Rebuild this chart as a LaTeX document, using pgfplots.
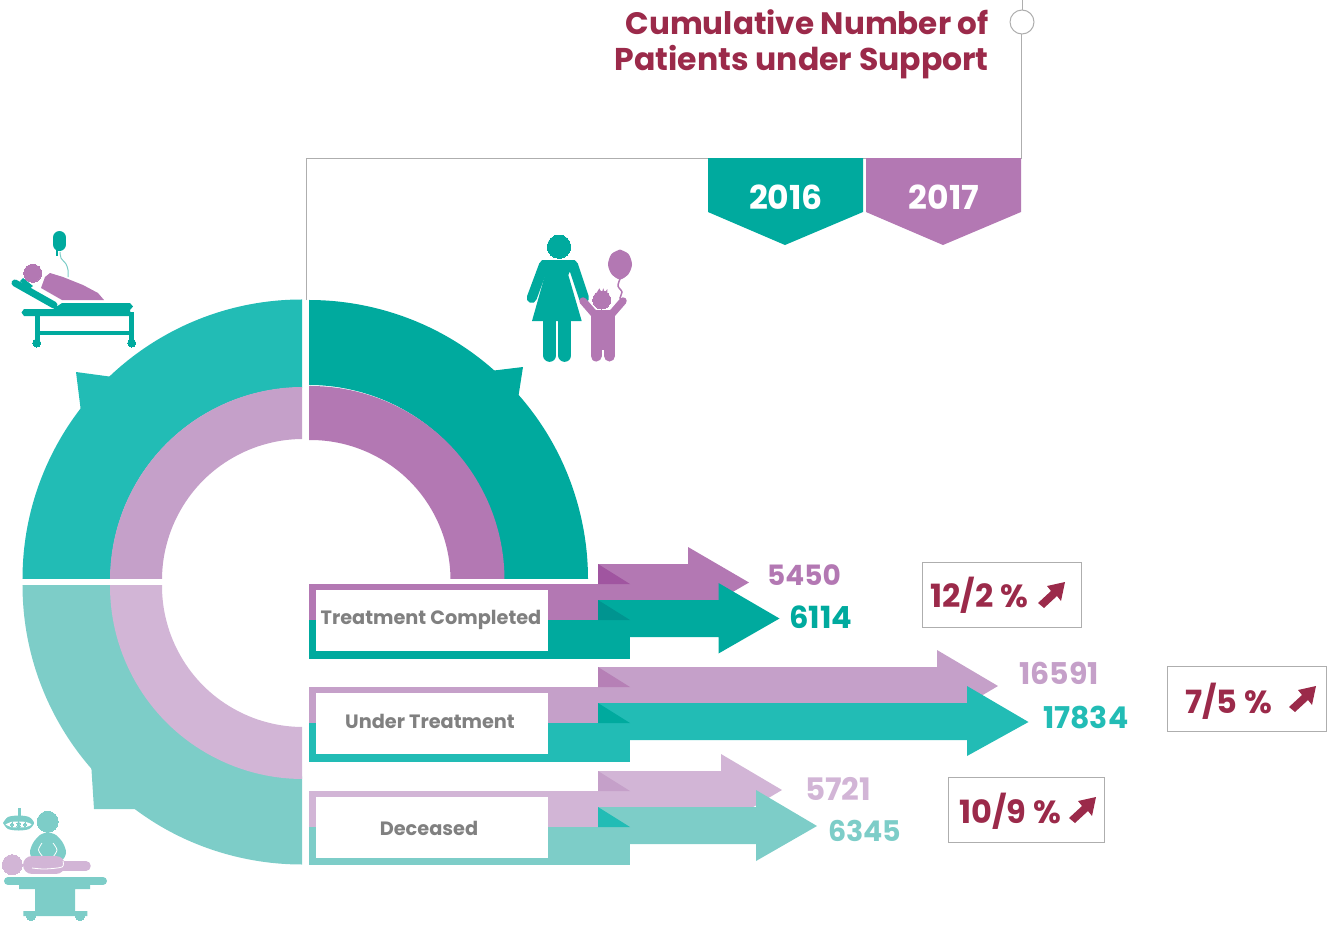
\documentclass[border=0pt]{standalone}
\usepackage{pgfplots}
\pgfplotsset{compat=1.18}
\usepackage{fontspec}
\setmainfont{Poppins}
\definecolor{tA}{HTML}{00AA9E}
\definecolor{tB}{HTML}{22BCB5}
\definecolor{tC}{HTML}{7DCDC8}
\definecolor{pA}{HTML}{B378B3}
\definecolor{pB}{HTML}{C5A0C9}
\definecolor{pC}{HTML}{D2B5D6}
\definecolor{foldP}{HTML}{A055A0}
\definecolor{foldT}{HTML}{009490}
\definecolor{foldPb}{HTML}{B680B6}
\definecolor{maroon}{HTML}{9B2A4A}
\definecolor{lab}{HTML}{808080}
\definecolor{rule}{HTML}{AEAEAE}
\pgfplotsset{
  base/.style={hide axis,scale only axis,y dir=reverse,anchor=south west},
  sh/.style={fill=#1,draw=none},
  ln/.style 2 args={draw=#1,line width=#2,line cap=round,line join=round},
  dot/.style 2 args={only marks,mark=*,mark size=#2,color=#1,mark options={fill=#1,draw=#1,line width=0pt}},
  arc/.style 2 args={smooth,tension=0.61,draw=#1,line width=#2},
}
\newcommand{\txt}[4]{\node[anchor=#1,inner sep=0pt,text=#2] at (axis cs:#3) {#4};}
\begin{document}
\begin{tikzpicture}[x=1pt,y=1pt]
\useasboundingbox (0pt,0pt) rectangle (1331pt,924pt);
% donut: top right
\begin{axis}[base,at={(309pt,346pt)},width=291pt,height=288pt,xmin=309,xmax=600,ymin=290,ymax=578]
\addplot[arc={tA}{85pt}] coordinates {(537.4,640.2)(545.5,579)(537.4,517.8)(513.8,460.7)(476.2,411.8)(427.3,374.2)(370.2,350.6)(309,342.5)(247.8,350.6)};
\addplot[arc={pA}{54pt}] coordinates {(471.8,623.2)(477.5,580)(471.8,536.8)(455.1,496.5)(428.6,461.9)(394,435.4)(353.7,418.7)(310.5,413)(267.3,418.7)};
\end{axis}
% top left
\begin{axis}[base,at={(10pt,346pt)},width=292pt,height=288pt,xmin=10,xmax=302,ymin=290,ymax=578]
\addplot[arc={tB}{88pt}] coordinates {(74.5,640)(66.5,579)(74.5,518)(98.1,461.2)(135.5,412.5)(184.2,375.1)(241,351.5)(302,343.5)(363,351.5)};
\addplot[arc={pB}{52pt}] coordinates {(141.7,623.2)(136,580)(141.7,536.8)(158.4,496.5)(184.9,461.9)(219.5,435.4)(259.8,418.7)(303,413)(346.2,418.7)};
\end{axis}
% bottom left
\begin{axis}[base,at={(10pt,49pt)},width=292pt,height=290pt,xmin=10,xmax=302,ymin=585,ymax=875]
\addplot[arc={tC}{88pt}] coordinates {(74.5,524)(66.5,585)(74.5,646)(98.1,702.8)(135.5,751.5)(184.2,789.1)(241,812.5)(302,820.5)(363,812.5)};
\addplot[arc={pC}{52pt}] coordinates {(141.7,542.8)(136,586)(141.7,629.2)(158.4,669.5)(184.9,704.1)(219.5,730.6)(259.8,747.3)(303,753)(346.2,747.3)};
\end{axis}
% main
\begin{axis}[base,at={(0pt,0pt)},width=1331pt,height=924pt,xmin=0,xmax=1331,ymin=0,ymax=924]
% barbs
\addplot[sh=tA] coordinates {(490,371)(523,367)(518,399)(480,400)};
\addplot[sh=tB] coordinates {(113,377)(76,372)(81,412)(120,410)};
\addplot[sh=tC] coordinates {(91,762)(94,809)(137,809)(150,780)};
% header
\addplot[draw=rule,line width=1pt] coordinates {(306,300)(306,158)(1021,158)(1021,34)};
\addplot[draw=rule,line width=1pt] coordinates {(1022,0)(1022,10)};
\addplot[only marks,mark=o,mark size=12pt,mark options={draw=rule,line width=1pt,fill=white}] coordinates {(1022,22)};
\addplot[sh=tA] coordinates {(708,158)(863,158)(863,212)(785,245)(708,212)};
\addplot[sh=pA] coordinates {(866,158)(1021,158)(1021,212)(943,245)(866,212)};
% row 1
\addplot[sh=pA] coordinates {(598,564)(688,564)(688,547)(749,582.5)(688,618)(688,602)(598,602)};
\addplot[sh=pA] coordinates {(309,584)(630,584)(630,620)(309,620)};
\addplot[sh=foldP] coordinates {(598,564)(630,584)(598,584)};
\addplot[sh=tA] coordinates {(309,620)(630,620)(630,659)(309,659)};
\addplot[sh=tA] coordinates {(598,600)(718.5,600)(718.5,583)(779.5,618.5)(718.5,653.5)(718.5,637)(598,637)};
\addplot[sh=foldT] coordinates {(598,600)(630,620)(598,620)};
\addplot[sh=white] coordinates {(316,590)(548,590)(548,651)(316,651)};
% row 2
\addplot[sh=pB] coordinates {(598,667)(937,667)(937,650)(998,686)(937,722)(937,705)(598,705)};
\addplot[sh=pB] coordinates {(309,687)(630,687)(630,723)(309,723)};
\addplot[sh=foldPb] coordinates {(598,667)(630,687)(598,687)};
\addplot[sh=tB] coordinates {(309,723)(630,723)(630,762)(309,762)};
\addplot[sh=tB] coordinates {(598,703)(967,703)(967,686)(1028.5,722)(967,756)(967,740)(598,740)};
\addplot[sh=tA] coordinates {(598,703)(630,723)(598,723)};
\addplot[sh=white] coordinates {(316,693)(548,693)(548,754)(316,754)};
% row 3
\addplot[sh=pC] coordinates {(598,771)(721,771)(721,754)(782,790)(721,826)(721,809)(598,809)};
\addplot[sh=pC] coordinates {(309,791)(630,791)(630,827)(309,827)};
\addplot[sh=pB] coordinates {(598,771)(630,791)(598,791)};
\addplot[sh=tC] coordinates {(309,827)(630,827)(630,865)(309,865)};
\addplot[sh=tC] coordinates {(598,807)(756,807)(756,790)(817,826)(756,861)(756,844)(598,844)};
\addplot[sh=tB] coordinates {(598,807)(630,827)(598,827)};
\addplot[sh=white] coordinates {(316,797)(548,797)(548,858)(316,858)};
% boxes
\addplot[draw=rule,line width=1pt] coordinates {(922,562)(1081,562)(1081,627)(922,627)(922,562)};
\addplot[draw=rule,line width=1pt] coordinates {(1167,666)(1326,666)(1326,731)(1167,731)(1167,666)};
\addplot[draw=rule,line width=1pt] coordinates {(948,777)(1104,777)(1104,842)(948,842)(948,777)};
\addplot[sh=maroon] coordinates {(1065,582)(1047,586)(1051,591)(1038,603)(1044,608)(1057,596)(1061,601)};
\addplot[sh=maroon] coordinates {(1316,686)(1298,690)(1302,695)(1289,707)(1295,712)(1308,700)(1312,705)};
\addplot[sh=maroon] coordinates {(1096,797)(1078,801)(1082,806)(1069,818)(1075,823)(1088,811)(1092,816)};
% bed icon
\addplot[ln={tA}{13pt}] coordinates {(59.5,237.5)(59.5,244.5)};
\addplot[draw=tA,line width=2pt] coordinates {(57,250)(57,256)};
\addplot[smooth,draw=tC,line width=1pt] coordinates {(60,252)(61,258)(66,264)(68,270)(68,277)};
\addplot[dot={pA}{9pt}] coordinates {(32.7,273.3)};
\addplot[sh=pA] coordinates {(50,273)(63,277)(83,285)(98,293)(104,300)(62,300)(41,288)(45,277)};
\addplot[ln={tA}{7pt}] coordinates {(15,283)(54,305)};
\addplot[sh=tA] coordinates {(20,281)(23,278)(33,286)(28,290)};
\addplot[sh=tA] coordinates {(62,303)(130,303)(133,306.5)(130,310)(131,316)(24,316)(21.5,312.5)(24,309)(53,309)};
\addplot[draw=tA,line width=5pt] coordinates {(37,314)(37,342)};
\addplot[draw=tA,line width=5pt] coordinates {(131.5,312)(131.5,342)};
\addplot[draw=tA,line width=4pt] coordinates {(37,333)(131,333)};
\addplot[dot={tA}{4pt}] coordinates {(36.7,343)(131.7,343)};
% woman and child
\addplot[dot={tA}{11.7pt}] coordinates {(559,246.7)};
\addplot[sh=tA] coordinates {(541.7,260)(575,260)(568.3,275)(581.7,321)(532,321)(545,275)};
\addplot[ln={tA}{10pt}] coordinates {(544,265)(531.7,298)};
\addplot[ln={tA}{10pt}] coordinates {(573,265)(584,298)};
\addplot[ln={tA}{12.7pt}] coordinates {(549.7,318)(549.7,355.5)};
\addplot[ln={tA}{12.7pt}] coordinates {(564.8,318)(564.8,355.5)};
\addplot[ln={pA}{7.5pt}] coordinates {(596,316)(583,301)};
\addplot[ln={pA}{7.5pt}] coordinates {(610,316)(623,301)};
\addplot[sh=pA] coordinates {(590.7,310)(615,310)(615,350)(590.7,350)};
\addplot[ln={pA}{11pt}] coordinates {(596,345)(596,356)};
\addplot[ln={pA}{11pt}] coordinates {(609.5,345)(609.5,356)};
\addplot[dot={pA}{9pt}] coordinates {(601.7,300)};
\addplot[sh=pA] coordinates {(596,294)(599.3,288.3)(601.7,292.7)(603.3,288.3)(604.7,292.7)(607.3,289)(607.3,295)};
\addplot[smooth,sh=pA] coordinates {(620,249.5)(628.5,254)(632,264.3)(628.5,274)(620,279.5)(611.5,274)(608,264.3)(611.5,254)(620,249.5)};
\addplot[smooth,draw=pA,line width=1.5pt] coordinates {(620,279)(618,286)(622,292)(620,298)(623,302)};
% surgery icon
\addplot[draw=tC,line width=3pt] coordinates {(19,808)(19,817)};
\addplot[smooth,sh=tC] coordinates {(3,823)(8,817)(18.7,815.5)(29,817)(34,823)(29,829)(18.7,830.5)(8,829)(3,823)};
\addplot[smooth,sh=white] coordinates {(5.5,824.5)(11,822)(18.7,821.5)(26,822)(31.5,824.5)(26,827)(18.7,827.5)(11,827)(5.5,824.5)};
\addplot[dot={tC}{1.8pt}] coordinates {(12,824.5)(18.7,823.5)(25,824.5)(18.7,826)};
\addplot[dot={tC}{10.5pt}] coordinates {(47.7,821.7)};
\addplot[smooth,draw=white,line width=0.8pt] coordinates {(39,821)(41,829)(47.7,831)(54,829)(56,821)};
\addplot[smooth,sh=tC] coordinates {(47.7,832)(56,835)(63,843)(66,853)(60,861)(36,861)(30,853)(33,843)(40,835)(47.7,832)};
\addplot[smooth,draw=white,line width=0.8pt] coordinates {(42,843)(38.5,850)(43,857)};
\addplot[smooth,draw=white,line width=0.8pt] coordinates {(53,843)(57,850)(53,857)};
\addplot[dot={pC}{10pt}] coordinates {(12.3,864.7)};
\addplot[ln={pC}{18pt}] coordinates {(32,865)(56,865)};
\addplot[ln={pC}{9.5pt}] coordinates {(56,866)(86,866)};
\addplot[smooth,draw=white,line width=0.8pt] coordinates {(32,868)(45,869)(62,867)(63,861)};
\addplot[ln={tC}{8pt}] coordinates {(8,881)(103,881)};
\addplot[sh=tC] coordinates {(19,882)(90,882)(90,889)(75,889)(75,911)(87.3,911)(87.3,916)(23.3,916)(23.3,911)(35,911)(35,889)(19,889)};
\addplot[dot={tC}{4.5pt}] coordinates {(31,916)(80,916)};
% text
\txt{east}{maroon}{989,22}{\fontsize{31}{34}\selectfont\bfseries Cumulative Number of}
\txt{east}{maroon}{989,62}{\fontsize{31.5}{34}\selectfont\bfseries Patients under Support}
\txt{center}{white}{786,197}{\fontsize{33}{34}\selectfont\bfseries 2016}
\txt{center}{white}{944,197}{\fontsize{33}{34}\selectfont\bfseries 2017}
\txt{center}{lab}{431,620}{\fontsize{19.3}{24}\selectfont\bfseries Treatment Completed}
\txt{center}{lab}{430,721}{\fontsize{19.3}{24}\selectfont\bfseries Under Treatment}
\txt{center}{lab}{429,828}{\fontsize{19.3}{24}\selectfont\bfseries Deceased}
\txt{west}{pA}{767,575}{\fontsize{28}{32}\selectfont\bfseries 5450}
\txt{west}{tA}{789,617}{\fontsize{30.5}{32}\selectfont\bfseries 6114}
\txt{west}{pB}{1019,673}{\fontsize{30}{32}\selectfont\bfseries 16591}
\txt{west}{tB}{1043,717}{\fontsize{30}{32}\selectfont\bfseries 17834}
\txt{west}{pC}{805,789}{\fontsize{31}{32}\selectfont\bfseries 5721}
\txt{west}{tC}{828,831}{\fontsize{28.5}{32}\selectfont\bfseries 6345}
\txt{west}{maroon}{930,595}{\fontsize{32}{32}\selectfont\bfseries 12/2 \%}
\txt{west}{maroon}{1185,701}{\fontsize{32}{32}\selectfont\bfseries 7/5 \%}
\txt{west}{maroon}{959,811}{\fontsize{32}{32}\selectfont\bfseries 10/9 \%}
\end{axis}
\end{tikzpicture}
\end{document}
